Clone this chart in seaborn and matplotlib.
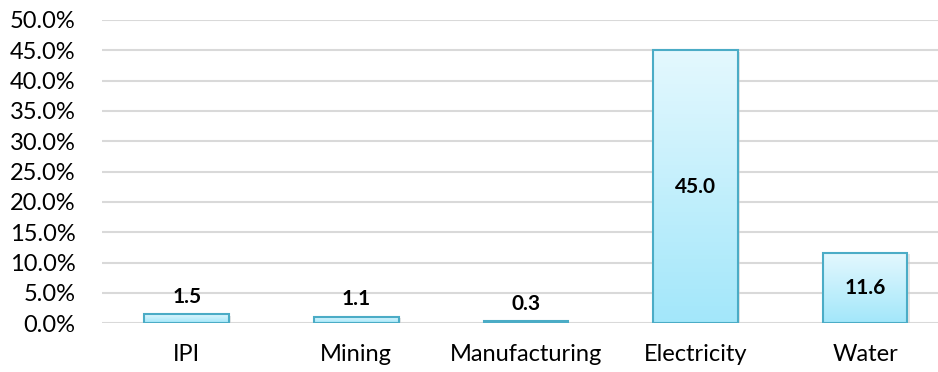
import numpy as np
import pandas as pd
import matplotlib
matplotlib.use("Agg")
import matplotlib.pyplot as plt
import seaborn as sns
from matplotlib.colors import LinearSegmentedColormap
from matplotlib.ticker import FuncFormatter

# data (percent)
sectors = ['IPI', 'Mining', 'Manufacturing', 'Electricity', 'Water']
growth = [1.5, 1.1, 0.3, 45.0, 11.6]

df = pd.DataFrame({'sector': sectors, 'growth': growth})

sns.set_theme(style='white')
plt.rcParams['font.family'] = ['Lato', 'DejaVu Sans']

fig = plt.figure(figsize=(9.38, 3.72), dpi=100)
ax = fig.add_axes([102 / 938, 1 - 323.3 / 372, 836 / 938, 303.3 / 372])

sns.barplot(data=df, x='sector', y='growth', width=0.5, color='#bfeefb',
            edgecolor='#4bacc6', linewidth=1.5, ax=ax, zorder=3)

# gradient fill like the excel bars
grad = LinearSegmentedColormap.from_list('g', ['#a3e7fa', '#e4f8fe'])
for p in ax.patches:
    x0, y0 = p.get_x(), p.get_y()
    w, h = p.get_width(), p.get_height()
    p.set_facecolor('none')
    ax.imshow(np.linspace(0, 1, 64).reshape(-1, 1), cmap=grad, origin='lower',
              extent=[x0, x0 + w, y0, y0 + h], aspect='auto', zorder=2)
    # faint shadow
    ax.add_patch(plt.Rectangle((x0 + 0.012, y0 - 0.25), w, h, facecolor='#cccccc',
                               edgecolor='none', alpha=0.5, zorder=1.5))

for i, v in enumerate(growth):
    if v > 5:
        ax.text(i, v / 2, f'{v:.1f}', ha='center', va='center',
                fontsize=15, fontweight='bold', color='black', zorder=5)
    else:
        ax.text(i, v + 1.2, f'{v:.1f}', ha='center', va='bottom',
                fontsize=15, fontweight='bold', color='black', zorder=5)

ax.set_xlim(-0.5, 4.43)
ax.set_ylim(0, 50)
ax.set_yticks(np.arange(0, 50.1, 5))
ax.yaxis.set_major_formatter(FuncFormatter(lambda v, _: f'{v:.1f}%'))
ax.grid(axis='y', color='#d9d9d9', linewidth=1.5, zorder=0)
ax.set_axisbelow(True)
for s in ax.spines.values():
    s.set_visible(False)
ax.tick_params(axis='both', length=0, labelsize=17, colors='black')
ax.tick_params(axis='y', pad=19)
ax.tick_params(axis='x', pad=15)
ax.set_xlabel('')
ax.set_ylabel('')

fig.savefig('out.png', dpi=100)
